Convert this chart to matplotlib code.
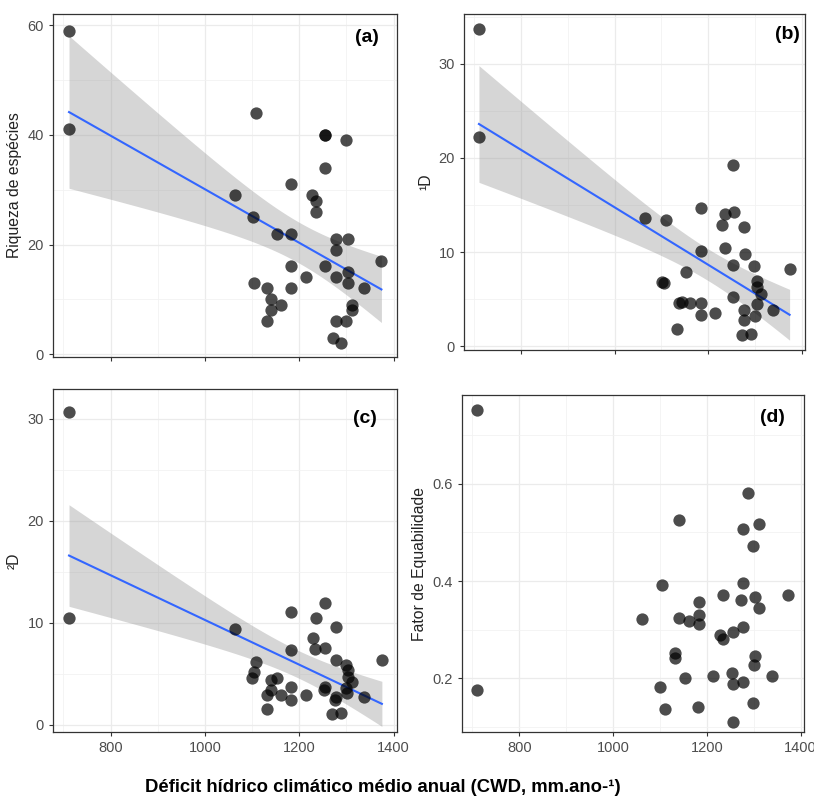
# painel 2x2: diversidade vs deficit hidrico (CWD)
import numpy as np
import matplotlib
matplotlib.use("Agg")
import matplotlib.pyplot as plt
from matplotlib.ticker import MultipleLocator

plt.rcParams['font.family'] = ['Liberation Sans', 'DejaVu Sans']

# (a) riqueza de especies
x_a = [712, 712, 1109, 1254, 1254, 1298, 1254, 1182, 1064, 1227, 1235, 1235, 1102, 1152, 1182,
       1277, 1304, 1277, 1374, 1182, 1254, 1304, 1277, 1214, 1105, 1304, 1132, 1182, 1338, 1139,
       1161, 1139, 1311, 1311, 1132, 1277, 1298, 1271, 1288]
y_a = [59, 41, 44, 40, 40, 39, 34, 31, 29, 29, 28, 26, 25, 22, 22,
       21, 21, 19, 17, 16, 16, 15, 14, 14, 13, 13, 12, 12, 12, 10,
       9, 8, 9, 8, 6, 6, 6, 3, 2]

# (b) 1D
x_b = [710, 710, 1254, 1184, 1235, 1256, 1064, 1110, 1230, 1277, 1236, 1184, 1278, 1254, 1298,
       1374, 1153, 1102, 1106, 1305, 1305, 1312, 1254, 1138, 1143, 1162, 1184, 1305, 1277, 1339,
       1184, 1215, 1300, 1277, 1134, 1273, 1291]
y_b = [33.7, 22.2, 19.3, 14.7, 14.1, 14.3, 13.6, 13.4, 12.9, 12.7, 10.4, 10.1, 9.8, 8.6, 8.5,
       8.2, 7.9, 6.85, 6.7, 6.9, 6.3, 5.6, 5.2, 4.6, 4.7, 4.6, 4.6, 4.5, 3.9, 3.8,
       3.3, 3.5, 3.2, 2.8, 1.8, 1.2, 1.3]

# (c) 2D
x_c = [712, 712, 1254, 1182, 1235, 1277, 1064, 1228, 1233, 1254, 1182, 1375, 1277, 1109, 1298,
       1304, 1105, 1304, 1100, 1152, 1139, 1311, 1182, 1254, 1253, 1298, 1139, 1302, 1132, 1161,
       1214, 1338, 1277, 1182, 1276, 1132, 1270, 1288]
y_c = [30.7, 10.5, 11.9, 11.1, 10.5, 9.6, 9.4, 8.5, 7.4, 7.5, 7.3, 6.4, 6.4, 6.2, 5.9,
       5.4, 5.2, 4.7, 4.6, 4.6, 4.4, 4.2, 3.7, 3.7, 3.4, 3.6, 3.4, 3.1, 2.9, 2.9,
       2.9, 2.7, 2.7, 2.4, 2.4, 1.6, 1.1, 1.2]

# (d) fator de equabilidade
x_d = [710, 710, 1288, 1140, 1312, 1278, 1299, 1104, 1278, 1234, 1373, 1303, 1272, 1183, 1311,
       1062, 1140, 1162, 1183, 1183, 1278, 1256, 1229, 1234, 1133, 1133, 1303, 1300, 1154, 1214,
       1254, 1339, 1256, 1278, 1100, 1111, 1182, 1298, 1256]
y_d = [0.752, 0.176, 0.581, 0.525, 0.518, 0.507, 0.473, 0.392, 0.395, 0.372, 0.372, 0.367, 0.362, 0.357, 0.345,
       0.323, 0.324, 0.318, 0.331, 0.311, 0.306, 0.296, 0.289, 0.282, 0.252, 0.241, 0.246, 0.227, 0.201, 0.205,
       0.212, 0.205, 0.188, 0.192, 0.183, 0.137, 0.141, 0.150, 0.110]

fig = plt.figure(figsize=(8.14, 8.07), dpi=100)


def painel(rect, x, y, ylab, tag, tagpos, ylim, ymaj, show_x, smooth=True):
    ax = fig.add_axes(rect)
    x = np.array(x, dtype=float)
    y = np.array(y, dtype=float)
    ax.set_xlim(678, 1407)
    ax.set_ylim(*ylim)
    ax.xaxis.set_major_locator(MultipleLocator(200))
    ax.xaxis.set_minor_locator(MultipleLocator(100))
    ax.yaxis.set_major_locator(MultipleLocator(ymaj))
    ax.yaxis.set_minor_locator(MultipleLocator(ymaj / 2))
    ax.grid(True, which='major', color='#EBEBEB', lw=0.9)
    ax.grid(True, which='minor', color='#F2F2F2', lw=0.6)
    ax.set_axisbelow(True)
    ax.tick_params(which='minor', length=0)
    ax.tick_params(which='major', length=3, width=0.8, color='#333333',
                   labelsize=10.5, labelcolor='#4D4D4D')
    for s in ax.spines.values():
        s.set_color('#333333')
        s.set_linewidth(0.9)
    if not show_x:
        ax.set_xticklabels([])

    if smooth:
        # ajuste linear com IC 95% (como geom_smooth method='lm')
        n = len(x)
        b1, b0 = np.polyfit(x, y, 1)
        res = y - (b0 + b1 * x)
        s = np.sqrt(np.sum(res ** 2) / (n - 2))
        xx = np.linspace(x.min(), x.max(), 80)
        yy = b0 + b1 * xx
        se = s * np.sqrt(1.0 / n + (xx - x.mean()) ** 2 / np.sum((x - x.mean()) ** 2))
        ax.fill_between(xx, yy - 2.03 * se, yy + 2.03 * se, color='#999999', alpha=0.4, lw=0, zorder=2)
        ax.plot(xx, yy, color='#3366FF', lw=1.5, zorder=3)

    ax.scatter(x, y, s=78, color='black', alpha=0.7, lw=0, zorder=4)
    ax.set_ylabel(ylab, fontsize=11.3, color='#222222', labelpad=4)
    ax.text(tagpos[0], tagpos[1], tag, transform=ax.transAxes, fontsize=14,
            fontweight='bold', ha='center', va='center', color='black')
    return ax


painel([0.0651, 0.5576, 0.4226, 0.425], x_a, y_a, 'Riqueza de espécies', '(a)', (0.913, 0.933),
       (-0.5, 62.0), 20, False)
painel([0.570, 0.5663, 0.419, 0.4164], x_b, y_b, '¹D', '(b)', (0.947, 0.9375),
       (-0.4, 35.3), 10, False)
painel([0.0651, 0.0929, 0.4226, 0.425], x_c, y_c, '²D', '(c)', (0.907, 0.915),
       (-0.7, 32.9), 10, True)
painel([0.5676, 0.0929, 0.420, 0.4176], x_d, y_d, 'Fator de Equabilidade', '(d)', (0.909, 0.932),
       (0.09, 0.782), 0.2, True, smooth=False)

fig.text(0.4705, 0.024, 'Déficit hídrico climático médio anual (CWD, mm.ano-¹)',
         ha='center', va='center', fontsize=13.3, fontweight='bold')

fig.savefig('out.png', dpi=100)
